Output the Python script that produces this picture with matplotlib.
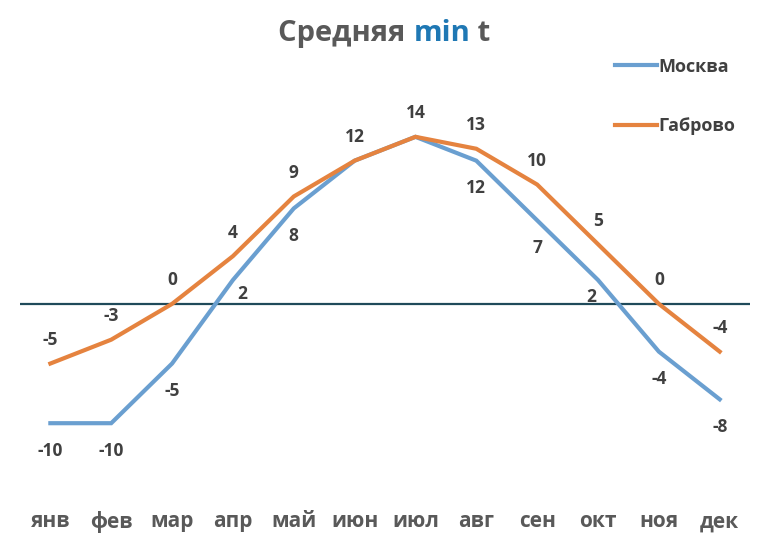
import numpy as np
import matplotlib.pyplot as plt

plt.rcParams['font.family'] = ['Open Sans', 'DejaVu Sans']

# donnees
mois = ['янв', 'фев', 'мар', 'апр', 'май', 'июн', 'июл', 'авг', 'сен', 'окт', 'ноя', 'дек']
moskva = [-10, -10, -5, 2, 8, 12, 14, 12, 7, 2, -4, -8]
gabrovo = [-5, -3, 0, 4, 9, 12, 14, 13, 10, 5, 0, -4]
# etiquettes de Moscou cachees en juin et juillet (superposees)
moskva_lab = [True, True, True, True, True, False, False, True, True, True, True, True]

c_msk = '#6A9FD0'
c_gab = '#E5833F'
c_txt = '#404040'

fig = plt.figure(figsize=(7.67, 5.51), dpi=100)
ax = fig.add_axes([0.026, 0.102, 0.952, 0.693])
x = np.arange(len(mois))

ax.axhline(0, color='#1F4A5A', lw=1.6, zorder=1)
ax.plot(x, moskva, color=c_msk, lw=3, label='Москва', zorder=2, solid_joinstyle='miter')
ax.plot(x, gabrovo, color=c_gab, lw=3, label='Габрово', zorder=3, solid_joinstyle='miter')

for i in range(len(x)):
    ax.annotate(str(gabrovo[i]), (x[i], gabrovo[i]), xytext=(0, 17), textcoords='offset points',
                ha='center', va='center', fontsize=12.5, fontweight='bold', color=c_txt)
    if moskva_lab[i]:
        dx, dy = 0, -20
        if i == 3:
            dx, dy = 7, -10
        if i == 9:
            dx, dy = -5, -12
        ax.annotate(str(moskva[i]), (x[i], moskva[i]), xytext=(dx, dy), textcoords='offset points',
                    ha='center', va='center', fontsize=12.5, fontweight='bold', color=c_txt)

ax.set_xlim(-0.5, 11.5)
ax.set_ylim(-16, 16)
ax.set_xticks(x)
ax.set_xticklabels(mois, fontsize=15, fontweight='bold', color='#595959')
ax.tick_params(axis='x', length=0, pad=12)
ax.set_yticks([])
for s in ax.spines.values():
    s.set_visible(False)

# titre en trois morceaux
t1 = fig.text(0.363, 0.94, 'Средняя ', fontsize=21, fontweight='bold', color='#595959', va='center')
t2 = ax.annotate('min', xy=(1, 0), xycoords=t1, va='bottom', fontsize=21, fontweight='bold', color='#1F78B4')
t3 = ax.annotate(' t', xy=(1, 0), xycoords=t2, va='bottom', fontsize=21, fontweight='bold', color='#595959')

fig.legend(loc='upper left', bbox_to_anchor=(0.781, 0.925), frameon=False,
           handlelength=2.3, handletextpad=0.1, labelspacing=2.3, labelcolor=c_txt,
           prop={'weight': 'bold', 'size': 13})

plt.savefig('out.png', dpi=100)
